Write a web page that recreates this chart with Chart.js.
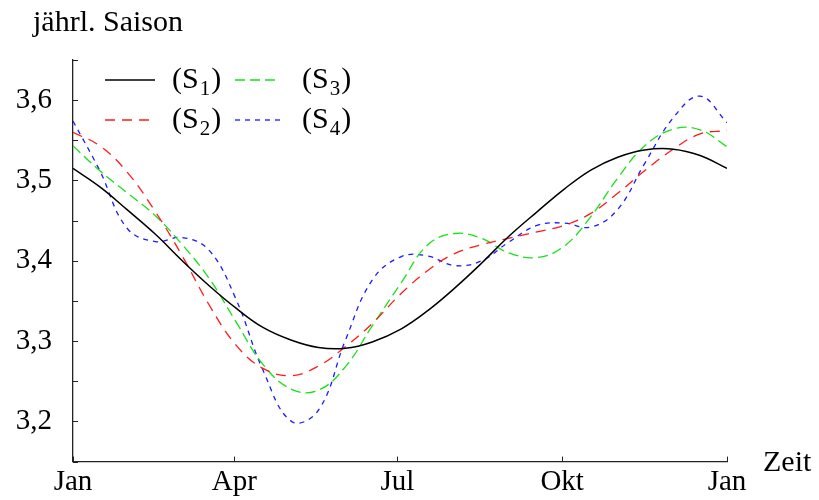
<!DOCTYPE html>
<html>
<head>
<meta charset="utf-8">
<script src="https://cdn.jsdelivr.net/npm/chart.js@4.4.1/dist/chart.umd.min.js"></script>
<style>
  html, body { margin: 0; padding: 0; background: #fff; }
</style>
</head>
<body>
<canvas id="chart" width="819" height="500"></canvas>
<script>
// Tag im Jahr (0 = 1. Jan, 365 = nächster 1. Jan)
const days = [0, 15, 30, 46, 61, 76, 91, 106, 122, 137, 152, 167, 183, 198, 213, 228, 243, 259, 274, 289, 304, 319, 335, 350, 365];

// Saisonfiguren
const s1 = [3.515, 3.492, 3.464, 3.433, 3.400, 3.369, 3.341, 3.317, 3.301, 3.292, 3.291, 3.299, 3.315, 3.338, 3.366, 3.397, 3.430, 3.461, 3.489, 3.513, 3.529, 3.538, 3.539, 3.531, 3.515];
const s2 = [3.560, 3.543, 3.511, 3.461, 3.406, 3.345, 3.295, 3.266, 3.257, 3.269, 3.293, 3.322, 3.359, 3.388, 3.409, 3.420, 3.428, 3.436, 3.444, 3.459, 3.484, 3.512, 3.539, 3.558, 3.562];
const s3 = [3.543, 3.512, 3.485, 3.456, 3.420, 3.378, 3.324, 3.271, 3.240, 3.239, 3.268, 3.319, 3.372, 3.420, 3.434, 3.428, 3.410, 3.404, 3.418, 3.455, 3.503, 3.543, 3.564, 3.563, 3.542];
const s4 = [3.574, 3.512, 3.441, 3.424, 3.429, 3.413, 3.352, 3.264, 3.200, 3.214, 3.301, 3.376, 3.405, 3.406, 3.394, 3.400, 3.423, 3.444, 3.447, 3.442, 3.464, 3.521, 3.578, 3.605, 3.572];

const monthTicks = [0, 90, 181, 273, 365];
const monthLabels = ['Jan', 'Apr', 'Jul', 'Okt', 'Jan'];
const seriesSub = ['1', '2', '3', '4'];
const yTitle = 'jährl. Saison';
const xTitle = 'Zeit';

const serif = '"Liberation Serif", "Times New Roman", serif';
const axisColor = '#222';

function series(values, color, dash, width) {
    return {
        label: 'S',
        data: days.map((d, i) => ({ x: d, y: values[i] })),
        borderColor: color,
        borderDash: dash,
        borderWidth: width,
        pointRadius: 0,
        tension: 0.4,
        fill: false
    };
}

// Innenliegende Striche, Achsentitel und Legende
const decor = {
    id: 'decor',
    afterDraw(chart) {
        const ctx = chart.ctx;
        const a = chart.chartArea;
        const x = chart.scales.x;
        const y = chart.scales.y;
        ctx.save();
        ctx.strokeStyle = axisColor;
        ctx.lineWidth = 1;
        x.ticks.forEach(t => {
            const px = Math.round(x.getPixelForValue(t.value)) + 0.5;
            ctx.beginPath();
            ctx.moveTo(px, a.bottom);
            ctx.lineTo(px, a.bottom - 5);
            ctx.stroke();
        });
        y.ticks.forEach(t => {
            const py = Math.round(y.getPixelForValue(t.value)) + 0.5;
            ctx.beginPath();
            ctx.moveTo(a.left, py);
            ctx.lineTo(a.left + 5, py);
            ctx.stroke();
        });

        ctx.fillStyle = '#000';
        ctx.textBaseline = 'alphabetic';
        ctx.textAlign = 'left';
        ctx.font = '30px ' + serif;
        ctx.fillText(yTitle, 33, 31);
        ctx.fillText(xTitle, 763, 471);

        // Legende: zwei Spalten
        const lineX = [105, 235];
        const lineW = [50, 45];
        const textX = [172, 302];
        chart.data.datasets.forEach((ds, i) => {
            const col = Math.floor(i / 2);
            const row = i % 2;
            const ly = 80 + row * 40;
            ctx.save();
            ctx.strokeStyle = ds.borderColor;
            ctx.lineWidth = ds.borderWidth;
            ctx.setLineDash(ds.borderDash);
            ctx.beginPath();
            ctx.moveTo(lineX[col], ly);
            ctx.lineTo(lineX[col] + lineW[col], ly);
            ctx.stroke();
            ctx.restore();

            let tx = textX[col];
            const base = ly + 8;
            ctx.font = '30px ' + serif;
            ctx.fillText('(' + ds.label, tx, base);
            tx += ctx.measureText('(' + ds.label).width;
            ctx.font = '21px ' + serif;
            ctx.fillText(seriesSub[i], tx + 1, base + 7);
            tx += ctx.measureText(seriesSub[i]).width + 2;
            ctx.font = '30px ' + serif;
            ctx.fillText(')', tx, base);
        });
        ctx.restore();
    }
};

new Chart(document.getElementById('chart').getContext('2d'), {
    type: 'line',
    data: {
        datasets: [
            series(s1, '#000000', [], 1.5),
            series(s2, '#ff1a1a', [10, 7], 1.3),
            series(s3, '#18e018', [10, 5], 1.3),
            series(s4, '#1a1aff', [5, 5], 1.3)
        ]
    },
    options: {
        responsive: false,
        animation: false,
        devicePixelRatio: 1,
        layout: { padding: { top: 60, right: 92, bottom: 0, left: 0 } },
        plugins: {
            legend: { display: false },
            tooltip: { enabled: false }
        },
        scales: {
            x: {
                type: 'linear',
                min: 0,
                max: 365,
                afterBuildTicks: axis => {
                    axis.ticks = monthTicks.map(v => ({ value: v }));
                },
                afterFit: axis => { axis.height = 37; },
                grid: { display: false, drawTicks: false },
                border: { display: true, color: axisColor, width: 1.3 },
                ticks: {
                    callback: (v, i) => monthLabels[i],
                    autoSkip: false,
                    maxRotation: 0,
                    padding: 3,
                    color: '#000',
                    font: { family: serif, size: 29 }
                }
            },
            y: {
                min: 3.15,
                max: 3.65,
                afterFit: axis => { axis.width = 73; },
                grid: { display: false, drawTicks: false },
                border: { display: true, color: axisColor, width: 1.3 },
                ticks: {
                    stepSize: 0.05,
                    autoSkip: false,
                    padding: 21,
                    color: '#000',
                    font: { family: serif, size: 29 },
                    callback: v => Math.round(v * 100) % 10 === 0 ? v.toFixed(1).replace('.', ',') : ''
                }
            }
        }
    },
    plugins: [decor]
});
</script>
</body>
</html>
